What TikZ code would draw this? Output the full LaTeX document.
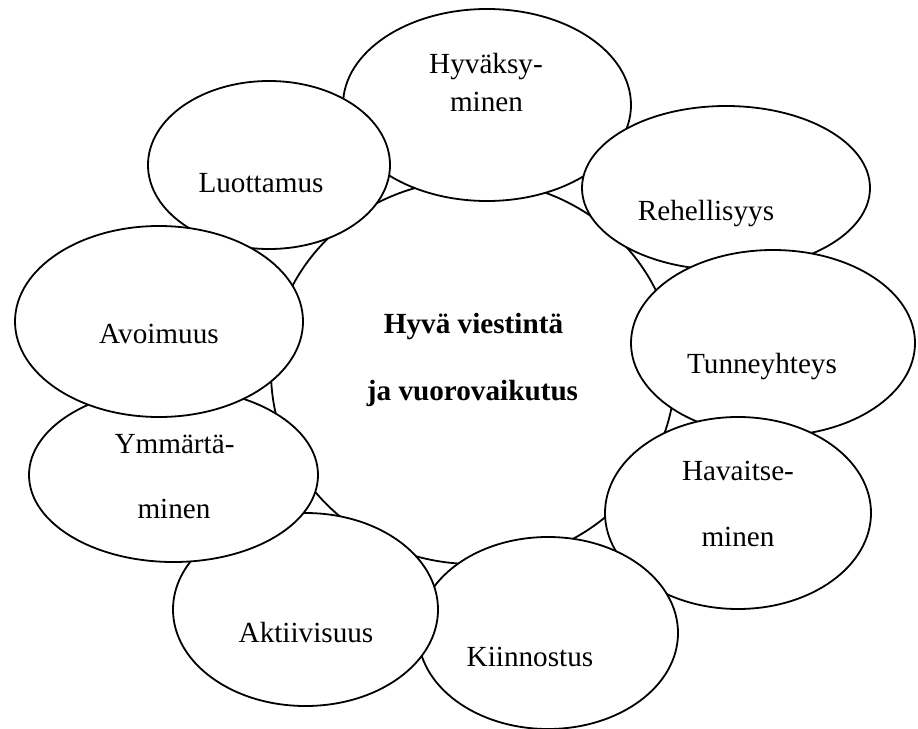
\documentclass[tikz,border=0pt]{standalone}
\usepackage{fontspec}
\setmainfont{Liberation Serif}
\usetikzlibrary{shapes.geometric}
\tikzset{
  bub/.style={ellipse, draw=black, fill=white, line width=1.8pt, inner sep=0pt},
  lbl/.style={anchor=base, inner sep=0pt, font=\fontsize{29.2}{35}\selectfont},
  blbl/.style={anchor=base, inner sep=0pt, font=\fontsize{29.2}{35}\selectfont\bfseries}
}
\begin{document}
\begin{tikzpicture}[x=1pt,y=-1pt]
\useasboundingbox (0,0) rectangle (918,728);
\fill[white] (0,0) rectangle (918,728);
% central circle
\node[bub, minimum width=404pt, minimum height=384pt] (ctr) at (473,372) {};
% surrounding ellipses, bottom to top
\node[bub, minimum width=288pt, minimum height=192pt] (hyv) at (487,105) {};
\node[bub, minimum width=288pt, minimum height=164pt] (reh) at (726,188) {};
\node[bub, minimum width=284pt, minimum height=186pt] (tun) at (773,343) {};
\node[bub, minimum width=266pt, minimum height=192pt] (hav) at (738,513) {};
\node[bub, minimum width=260pt, minimum height=192pt] (kii) at (548,633) {};
\node[bub, minimum width=265pt, minimum height=193pt] (akt) at (305.5,609.5) {};
\node[bub, minimum width=289pt, minimum height=174pt] (ymm) at (173.5,475) {};
\node[bub, minimum width=242pt, minimum height=168pt] (luo) at (269,165) {};
\node[bub, minimum width=288pt, minimum height=191pt] (avo) at (159,321.5) {};
% texts
\node[blbl] (t1) at (473.5,333) {Hyvä viestintä};
\node[blbl] (t2) at (472.5,400) {ja vuorovaikutus};
\node[lbl] (thyv1) at (486,73) {Hyväksy-};
\node[lbl] (thyv2) at (486.5,111) {minen};
\node[lbl] (treh) at (706,220) {Rehellisyys};
\node[lbl] (ttun) at (762,373) {Tunneyhteys};
\node[lbl] (thav1) at (738,480) {Havaitse-};
\node[lbl] (thav2) at (738,546) {minen};
\node[lbl] (tkii) at (530,666) {Kiinnostus};
\node[lbl] (takt) at (306,642) {Aktiivisuus};
\node[lbl] (tymm1) at (174.5,453) {Ymmärtä-};
\node[lbl] (tymm2) at (174,518) {minen};
\node[lbl] (tluo) at (261,192) {Luottamus};
\node[lbl] (tavo) at (159,343) {Avoimuus};
\end{tikzpicture}
\end{document}
